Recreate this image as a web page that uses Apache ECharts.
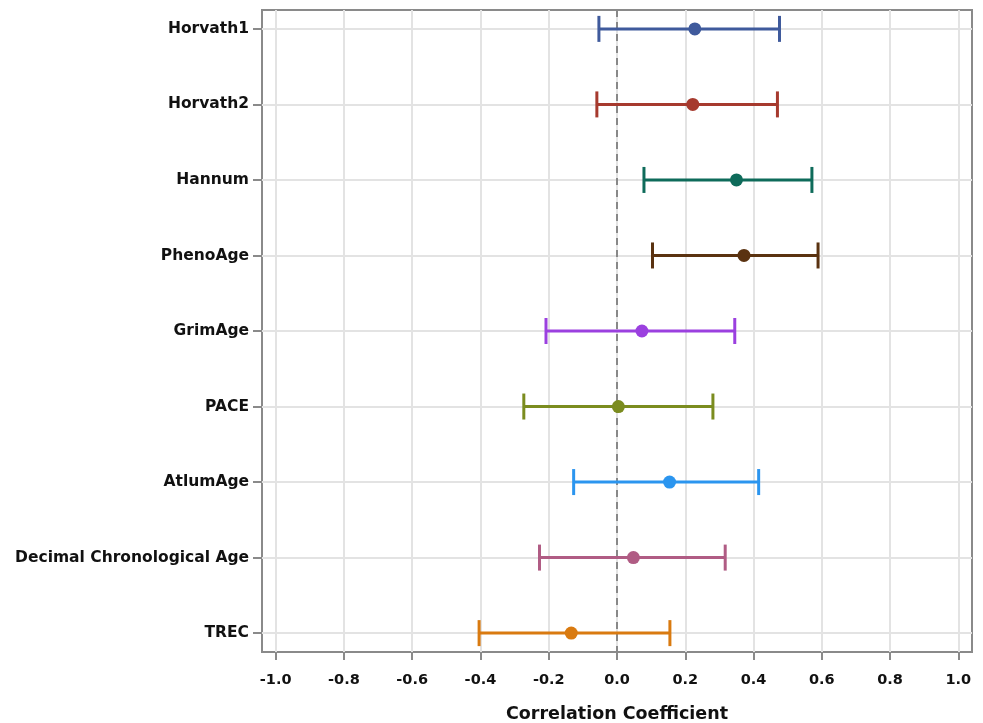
<!DOCTYPE html>
<html>
<head>
<meta charset="utf-8">
<script src="https://cdn.jsdelivr.net/npm/echarts@6/dist/echarts.min.js"></script>
<style>html,body{margin:0;padding:0;background:#fff}#c{width:983px;height:723px}</style>
</head>
<body>
<div id="c"></div>
<script>
const categories = ['Horvath1','Horvath2','Hannum','PhenoAge','GrimAge','PACE','AtlumAge','Decimal Chronological Age','TREC'];
const estimates = [0.228, 0.222, 0.350, 0.372, 0.073, 0.004, 0.154, 0.048, -0.134];
const lowerCI   = [-0.053, -0.059, 0.079, 0.104, -0.208, -0.273, -0.127, -0.227, -0.404];
const upperCI   = [0.476, 0.470, 0.571, 0.589, 0.345, 0.281, 0.415, 0.317, 0.155];
const colors = ['#3f5a9c','#a63a2e','#0e6b5a','#5a3210','#9b40df','#7b8c1f','#2b95ef','#b05c84','#d97a10'];
const xTicks = [-1.0,-0.8,-0.6,-0.4,-0.2,0.0,0.2,0.4,0.6,0.8,1.0];
const rowIdx = categories.map((c,i)=>i);

const data = categories.map((c,i)=>({value:[i, lowerCI[i], estimates[i], upperCI[i]], itemStyle:{color:colors[i]}}));

const chart = echarts.init(document.getElementById('c'), null, {renderer:'canvas'});
const fontFam = '"DejaVu Sans", sans-serif';
chart.setOption({
  animation:false,
  backgroundColor:'#fff',
  grid:{left:262, right:11, top:10, bottom:71, show:true, borderColor:'#8a8a8a', borderWidth:2, containLabel:false, outerBoundsMode:'none'},
  xAxis:{
    type:'value', min:-1.04, max:1.04,
    name:'Correlation Coefficient', nameLocation:'middle', nameGap:53,
    nameTextStyle:{fontFamily:fontFam, fontWeight:'bold', fontSize:17.5, color:'#111'},
    axisLine:{show:false, onZero:false},
    axisTick:{show:true, inside:false, length:8, lineStyle:{color:'#8a8a8a', width:2}, customValues:xTicks},
    axisLabel:{customValues:xTicks, formatter:v=>v.toFixed(1), fontFamily:fontFam, fontWeight:'bold', fontSize:14.5, color:'#111', margin:21},
    splitLine:{show:true, lineStyle:{color:'#e3e3e3', width:2}}
  },
  yAxis:{
    type:'value', min:-0.25, max:8.25, inverse:true,
    axisLine:{show:false, onZero:false},
    axisTick:{show:true, length:9, lineStyle:{color:'#8a8a8a', width:2}, customValues:rowIdx},
    axisLabel:{customValues:rowIdx, formatter:v=>categories[Math.round(v)]||'', fontFamily:fontFam, fontWeight:'bold', fontSize:15.5, color:'#111', margin:13},
    splitLine:{show:true, lineStyle:{color:'#e3e3e3', width:2}}
  },
  series:[
    {
      type:'custom',
      data:data,
      encode:{x:[1,2,3], y:0},
      renderItem:function(params, api){
        const i = api.value(0);
        const lo = api.coord([api.value(1), i]);
        const pt = api.coord([api.value(2), i]);
        const hi = api.coord([api.value(3), i]);
        const col = api.visual('color');
        const cap = 13;
        const st = {stroke:col, lineWidth:3, fill:null};
        return {type:'group', children:[
          {type:'line', shape:{x1:lo[0], y1:lo[1], x2:hi[0], y2:hi[1]}, style:st},
          {type:'line', shape:{x1:lo[0], y1:lo[1]-cap, x2:lo[0], y2:lo[1]+cap}, style:st},
          {type:'line', shape:{x1:hi[0], y1:hi[1]-cap, x2:hi[0], y2:hi[1]+cap}, style:st},
          {type:'circle', shape:{cx:pt[0], cy:pt[1], r:6.5}, style:{fill:col}}
        ]};
      },
      markLine:{
        silent:true, symbol:'none', z:1,
        label:{show:false},
        lineStyle:{color:'#888', type:[7,5], width:2},
        data:[{xAxis:0}]
      },
      z:5
    }
  ]
});
</script>
</body>
</html>
